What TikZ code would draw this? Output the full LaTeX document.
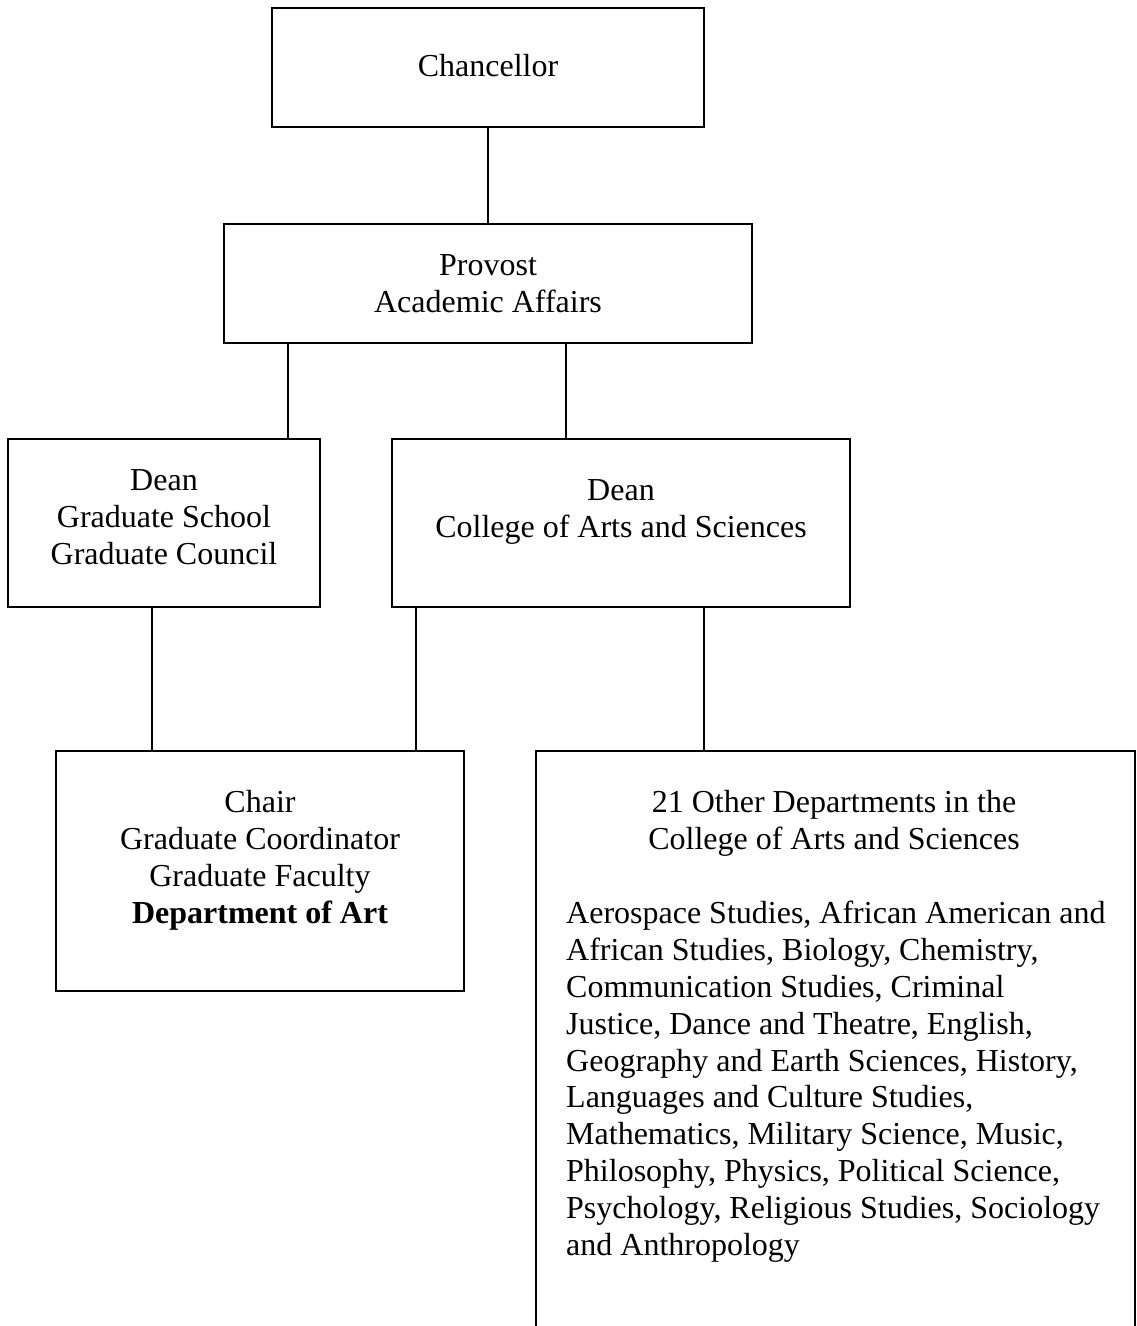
\documentclass[tikz,border=0pt]{standalone}
\usepackage{fontspec}
\setmainfont{Liberation Serif}
\begin{document}
\begin{tikzpicture}[x=1pt,y=-1pt,
  box/.style={draw=black,line width=2.6pt,inner sep=0pt,minimum width=#1},
  txt/.style={inner sep=0pt,font=\fontsize{32}{36.8}\selectfont,align=center},
  link/.style={draw=black,line width=2.6pt}]
\useasboundingbox (0,0) rectangle (1136,1326);
\clip (0,0) rectangle (1136,1326);
% boxes
\node[box=432pt,minimum height=119pt] (chan) at (488,67.5) {};
\node[box=528pt,minimum height=119pt] (prov) at (488,283.5) {};
\node[box=312pt,minimum height=168pt] (gs) at (164,523) {};
\node[box=458pt,minimum height=168pt] (cas) at (621,523) {};
\node[box=408pt,minimum height=240pt] (chair) at (260,871) {};
\node[box=599pt,minimum height=700pt] (other) at (835.5,1101) {};
% texts (base anchor = baseline of last line)
\node[txt,anchor=base] (tchan) at (488,76) {Chancellor};
\node[txt,anchor=base] (tprov) at (488,312) {Provost\\Academic Affairs};
\node[txt,anchor=base] (tgs) at (164,564) {Dean\\Graduate School\\Graduate Council};
\node[txt,anchor=base] (tcas) at (621,537) {Dean\\College of Arts and Sciences};
\node[txt,anchor=base] (tchair) at (260,923) {Chair\\Graduate Coordinator\\Graduate Faculty\\\textbf{Department of Art}};
\node[txt,anchor=base] (thead) at (834,849) {21 Other Departments in the\\College of Arts and Sciences};
\node[txt,anchor=base west,align=left] (tlist) at (566,1255) {Aerospace Studies, African American and\\African Studies, Biology, Chemistry,\\Communication Studies, Criminal\\Justice, Dance and Theatre, English,\\Geography and Earth Sciences, History,\\Languages and Culture Studies,\\Mathematics, Military Science, Music,\\Philosophy, Physics, Political Science,\\Psychology, Religious Studies, Sociology\\and Anthropology};
% connectors
\draw[link] (chan.south) -- (prov.north);
\draw[link] (288,0 |- prov.south) -- (288,0 |- gs.north);
\draw[link] (566,0 |- prov.south) -- (566,0 |- cas.north);
\draw[link] (152,0 |- gs.south) -- (152,0 |- chair.north);
\draw[link] (416,0 |- cas.south) -- (416,0 |- chair.north);
\draw[link] (704,0 |- cas.south) -- (704,0 |- other.north);
\end{tikzpicture}
\end{document}
